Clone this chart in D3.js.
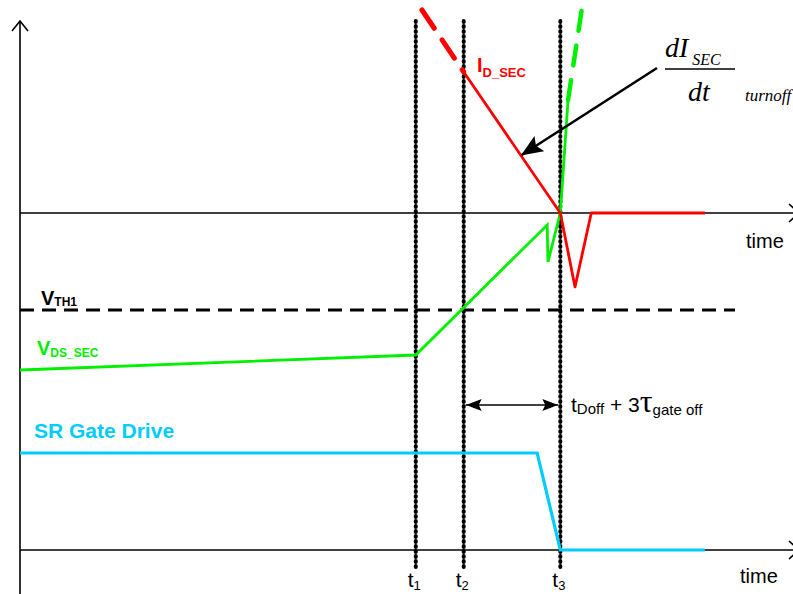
<!DOCTYPE html>
<html>
<head>
<meta charset="utf-8">
<script src="https://cdn.jsdelivr.net/npm/d3@7"></script>
<style>
  html, body { margin: 0; padding: 0; background: #fff; }
  svg { display: block; font-family: "Liberation Sans", Arial, sans-serif; }
</style>
</head>
<body>
<svg id="chart" width="793" height="594"></svg>
<script>
// Time instants (arbitrary time units) of the switching events
const eventTimes = [51.2, 57.4, 69.9];
const eventLabels = ["1", "2", "3"];

// Secondary current I_D_SEC: extrapolated (dashed) part and the drawn waveform
const idSecDashed = [[52.0, 10.15], [57.4, 7.05]];
const idSecSolid = [[57.4, 7.05], [69.9, 0], [71.8, -3.7], [73.9, 0], [88.6, 0]];

// Drain-source voltage V_DS_SEC: drawn waveform and extrapolated rise
const vdsSolid = [[0, -7.85], [51.2, -7.1], [68.2, -0.6], [68.3, -2.45], [69.9, 0], [70.9, 5.65]];
const vdsDashed = [[70.9, 5.65], [72.7, 10.25]];

// Turn-off threshold level V_TH1
const vth1Level = -4.85;
const vth1Span = [0, 92.5];

// SR gate drive (normalised 1 = on, 0 = off)
const gateDrive = [[0, 1], [66.9, 1], [69.9, 0], [88.6, 0]];

// Point on the current slope pointed at by the dI/dt callout
const slopePoint = [64.9, 2.9];

const svg = d3.select("#chart");
const RED = "#ff0000", GREEN = "#00f000", CYAN = "#00ccff";
const SERIF = "'Liberation Serif', 'Times New Roman', serif";

const x = d3.scaleLinear().domain([0, 100]).range([20, 793]);
const yUp = d3.scaleLinear().domain([0, 10]).range([213, 13]);
const yGate = d3.scaleLinear().domain([0, 1]).range([550, 453]);

const lineUp = d3.line().x(d => x(d[0])).y(d => yUp(d[1]));
const lineGate = d3.line().x(d => x(d[0])).y(d => yGate(d[1]));

// ---- axes ----
const axes = svg.append("g").attr("stroke", "#000").attr("fill", "none").attr("stroke-width", 1.6);
axes.append("line").attr("x1", x(0)).attr("x2", x(0)).attr("y1", 21).attr("y2", 594);
axes.append("path").attr("d", `M${x(0) - 8},31 L${x(0)},21 L${x(0) + 8},31`);
[yUp(0), yGate(0)].forEach(yy => {
  axes.append("line").attr("x1", x(0)).attr("x2", 793).attr("y1", yy).attr("y2", yy);
  axes.append("path").attr("d", `M789,${yy - 9} L799,${yy} L789,${yy + 9}`);
});

svg.append("text").attr("x", 746).attr("y", 248).attr("font-size", 20).text("time");
svg.append("text").attr("x", 740).attr("y", 583).attr("font-size", 20).text("time");

// ---- V_TH1 threshold ----
svg.append("line")
  .attr("x1", x(vth1Span[0])).attr("x2", x(vth1Span[1]))
  .attr("y1", yUp(vth1Level)).attr("y2", yUp(vth1Level))
  .attr("stroke", "#000").attr("stroke-width", 3.2)
  .attr("stroke-dasharray", "14 8");

// ---- event markers ----
const ev = svg.append("g");
eventTimes.forEach((t, i) => {
  ev.append("line")
    .attr("x1", x(t)).attr("x2", x(t)).attr("y1", 21).attr("y2", 570)
    .attr("stroke", "#000").attr("stroke-width", 4)
    .attr("stroke-linecap", "round").attr("stroke-dasharray", "1 4");
  const lbl = ev.append("text").attr("x", x(t) - 8).attr("y", 587).attr("font-size", 21);
  lbl.append("tspan").text("t");
  lbl.append("tspan").attr("font-size", 13).attr("dy", 3).text(eventLabels[i]);
});

// ---- waveforms ----
svg.append("path").datum(gateDrive).attr("d", lineGate)
  .attr("fill", "none").attr("stroke", CYAN).attr("stroke-width", 3.2);

svg.append("path").datum(vdsSolid).attr("d", lineUp)
  .attr("fill", "none").attr("stroke", GREEN).attr("stroke-width", 2.8)
  .attr("stroke-linejoin", "miter");
svg.append("path").datum(vdsDashed).attr("d", lineUp)
  .attr("fill", "none").attr("stroke", GREEN).attr("stroke-width", 4.5)
  .attr("stroke-linecap", "round").attr("stroke-dasharray", "20 15");

svg.append("path").datum(idSecSolid).attr("d", lineUp)
  .attr("fill", "none").attr("stroke", RED).attr("stroke-width", 2.8)
  .attr("stroke-linejoin", "round");
svg.append("path").datum(idSecDashed).attr("d", lineUp)
  .attr("fill", "none").attr("stroke", RED).attr("stroke-width", 5)
  .attr("stroke-linecap", "round").attr("stroke-dasharray", "22 14");

// ---- signal labels ----
function subLabel(px, py, main, sub, size, subSize, color, dy) {
  const t = svg.append("text").attr("x", px).attr("y", py)
    .attr("font-weight", "bold").attr("fill", color).attr("font-size", size);
  t.append("tspan").text(main);
  t.append("tspan").attr("font-size", subSize).attr("dy", dy).text(sub);
}
subLabel(477, 72, "I", "D_SEC", 20, 13, RED, 5);
subLabel(41, 305, "V", "TH1", 20, 12, "#000", 1);
subLabel(37, 355, "V", "DS_SEC", 20, 12, GREEN, 2);
svg.append("text").attr("x", 34).attr("y", 438).attr("font-size", 21)
  .attr("font-weight", "bold").attr("fill", CYAN).text("SR Gate Drive");

// ---- t2..t3 interval ----
const defs = svg.append("defs");
defs.append("marker").attr("id", "head").attr("viewBox", "0 0 16 12")
  .attr("refX", 16).attr("refY", 6).attr("markerWidth", 16).attr("markerHeight", 12)
  .attr("markerUnits", "userSpaceOnUse").attr("orient", "auto-start-reverse")
  .append("path").attr("d", "M0,0 L16,6 L0,12 L3,6 Z").attr("fill", "#000");
svg.append("line")
  .attr("x1", x(eventTimes[1]) + 2).attr("x2", x(eventTimes[2]) - 2)
  .attr("y1", 405).attr("y2", 405)
  .attr("stroke", "#000").attr("stroke-width", 1.6)
  .attr("marker-start", "url(#head)").attr("marker-end", "url(#head)");

const dl = svg.append("text").attr("x", 571).attr("y", 412).attr("font-size", 21);
dl.append("tspan").text("t");
dl.append("tspan").attr("font-size", 15).attr("dy", 2).text("Doff");
dl.append("tspan").attr("dy", -2).text(" + 3");
dl.append("tspan").style("font-family", SERIF).attr("font-size", 32).text("τ");
dl.append("tspan").attr("font-size", 15).attr("dy", 3).text("gate off");

// ---- dI/dt callout ----
defs.append("marker").attr("id", "bighead").attr("viewBox", "0 0 22 18")
  .attr("refX", 21).attr("refY", 9).attr("markerWidth", 22).attr("markerHeight", 18)
  .attr("markerUnits", "userSpaceOnUse").attr("orient", "auto")
  .append("path").attr("d", "M0,0 L22,9 L0,18 L4,9 Z").attr("fill", "#000");
svg.append("line")
  .attr("x1", 657).attr("y1", 68)
  .attr("x2", x(slopePoint[0])).attr("y2", yUp(slopePoint[1]))
  .attr("stroke", "#000").attr("stroke-width", 2.6)
  .attr("marker-end", "url(#bighead)");

const num = svg.append("text").attr("x", 665).attr("y", 57)
  .style("font-family", SERIF).attr("font-style", "italic").attr("font-size", 28);
num.append("tspan").text("dI");
num.append("tspan").attr("font-size", 16).attr("dy", 8).attr("dx", 4).text("SEC");
svg.append("line").attr("x1", 665).attr("x2", 735).attr("y1", 69).attr("y2", 69)
  .attr("stroke", "#000").attr("stroke-width", 1.3);
svg.append("text").attr("x", 688).attr("y", 101)
  .style("font-family", SERIF).attr("font-style", "italic").attr("font-size", 28).text("dt");
svg.append("text").attr("x", 745).attr("y", 101)
  .style("font-family", SERIF).attr("font-style", "italic").attr("font-size", 17).text("turnoff");
</script>
</body>
</html>
